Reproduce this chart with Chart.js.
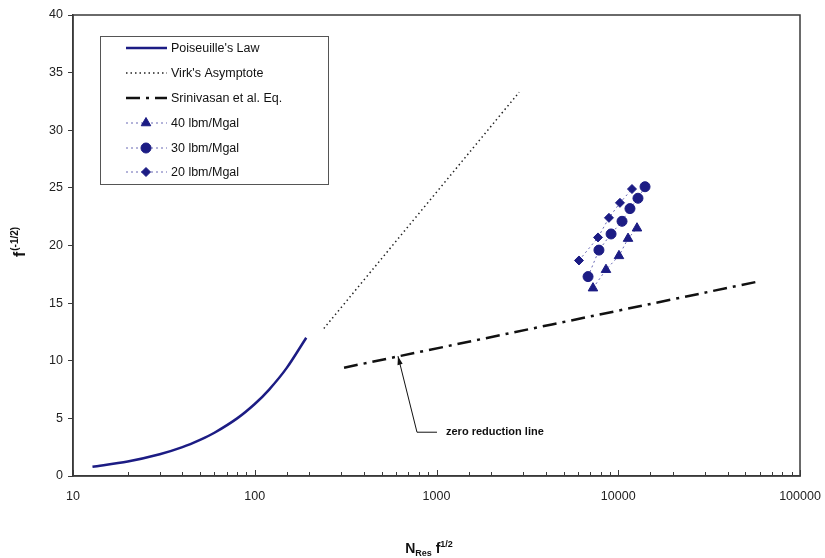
<!DOCTYPE html>
<html>
<head>
<meta charset="utf-8">
<script src="https://cdn.jsdelivr.net/npm/chart.js@4.4.1/dist/chart.umd.min.js"></script>
<style>
  body { margin: 0; background: #fff; }
  #wrap { width: 825px; height: 558px; }
</style>
</head>
<body>
<div id="wrap"><canvas id="chart" width="825" height="558"></canvas></div>
<script>
// laminar line (Poiseuille)
let poiseuilleX = [12.8, 20, 30, 40, 50, 60, 80, 100, 120, 150, 192];
let poiseuilleY = [0.8, 1.25, 1.88, 2.5, 3.13, 3.75, 5.0, 6.25, 7.5, 9.38, 12.0];
// maximum drag reduction asymptote
let virkX = [240, 2850];
let virkY = [12.8, 33.3];
// Srinivasan et al. correlation (zero reduction)
let srinivasanX = [310, 60000];
let srinivasanY = [9.4, 16.9];
// measured points per polymer loading
let lbm40X = [7260, 8560, 10090, 11320, 12680];
let lbm40Y = [16.3, 17.9, 19.1, 20.6, 21.5];
let lbm30X = [6820, 7830, 9130, 10490, 11600, 12840, 14040];
let lbm30Y = [17.3, 19.6, 21.0, 22.1, 23.2, 24.1, 25.1];
let lbm20X = [6080, 7740, 8890, 10220, 11900];
let lbm20Y = [18.7, 20.7, 22.4, 23.7, 24.9];

let xTicks = [10, 100, 1000, 10000, 100000];
let yTicks = [0, 5, 10, 15, 20, 25, 30, 35, 40];

// "zero reduction line" pointer, in data units
let noteTip = { x: 614, y: 10.4 };
let noteTail = { x: 781, y: 3.8 };
let noteText = 'zero reduction line';

const navy = '#1c1c84';
const fontFam = '"Liberation Sans", Arial, sans-serif';

function pts(xs, ys) {
    return xs.map((v, i) => ({ x: v, y: ys[i] }));
}

function isDecade(v) {
    return xTicks.some(t => Math.abs(t - v) < 1e-6 * t);
}

const decor = {
    id: 'decor',
    beforeDraw(chart) {
        const ctx = chart.ctx;
        ctx.save();
        ctx.fillStyle = '#fff';
        ctx.fillRect(0, 0, chart.width, chart.height);
        ctx.restore();
    },
    afterDraw(chart) {
        const { ctx, chartArea: a, scales: { x, y } } = chart;
        ctx.save();

        // frame
        ctx.strokeStyle = '#3a3a3a';
        ctx.lineWidth = 1.5;
        ctx.setLineDash([]);
        ctx.strokeRect(a.left, a.top, a.right - a.left, a.bottom - a.top);

        // x ticks point inward
        ctx.lineWidth = 1;
        ctx.beginPath();
        x.ticks.forEach(t => {
            const px = Math.round(x.getPixelForValue(t.value)) + 0.5;
            ctx.moveTo(px, a.bottom);
            ctx.lineTo(px, a.bottom - (isDecade(t.value) ? 6 : 4));
        });
        ctx.stroke();

        // pointer + label
        const tx = x.getPixelForValue(noteTip.x), ty = y.getPixelForValue(noteTip.y);
        const bx = x.getPixelForValue(noteTail.x), by = y.getPixelForValue(noteTail.y);
        ctx.strokeStyle = '#111';
        ctx.fillStyle = '#111';
        ctx.lineWidth = 1;
        ctx.beginPath();
        ctx.moveTo(bx + 20, by);
        ctx.lineTo(bx, by);
        ctx.lineTo(tx, ty);
        ctx.stroke();
        const ang = Math.atan2(ty - by, tx - bx);
        ctx.beginPath();
        ctx.moveTo(tx, ty);
        ctx.lineTo(tx - 9 * Math.cos(ang - 0.3), ty - 9 * Math.sin(ang - 0.3));
        ctx.lineTo(tx - 9 * Math.cos(ang + 0.3), ty - 9 * Math.sin(ang + 0.3));
        ctx.closePath();
        ctx.fill();
        ctx.font = 'bold 11px ' + fontFam;
        ctx.textBaseline = 'middle';
        ctx.textAlign = 'left';
        ctx.fillText(noteText, bx + 29, by);

        // legend box
        ctx.fillStyle = '#fff';
        ctx.fillRect(100, 36, 228, 148);
        ctx.strokeStyle = '#555';
        ctx.lineWidth = 1;
        ctx.strokeRect(100.5, 36.5, 228, 148);
        const rows = [48, 73, 98, 123, 148, 172];
        chart.data.datasets.forEach((ds, i) => {
            const ry = rows[i];
            ctx.save();
            ctx.strokeStyle = ds.borderColor;
            ctx.lineWidth = ds.borderWidth;
            ctx.setLineDash(ds.borderDash || []);
            ctx.beginPath();
            ctx.moveTo(126, ry);
            ctx.lineTo(167, ry);
            ctx.stroke();
            ctx.setLineDash([]);
            if (ds.pointRadius > 0) {
                ctx.fillStyle = ds.pointBackgroundColor;
                ctx.strokeStyle = ds.pointBorderColor;
                Chart.helpers.drawPoint(ctx, {
                    pointStyle: ds.pointStyle, radius: ds.pointRadius,
                    rotation: 0, borderWidth: 1
                }, 146, ry);
            }
            ctx.restore();
            ctx.fillStyle = '#111';
            ctx.font = '12.5px ' + fontFam;
            ctx.textBaseline = 'middle';
            ctx.fillText(ds.label, 171, ry + 1);
        });

        // axis titles with sub/superscripts
        ctx.fillStyle = '#111';
        ctx.textBaseline = 'alphabetic';
        const big = 'bold 14px ' + fontFam;
        const small = 'bold 9px ' + fontFam;

        ctx.save();
        ctx.translate(25, 242);
        ctx.rotate(-Math.PI / 2);
        ctx.font = 'bold 16px ' + fontFam;
        const fw = ctx.measureText('f').width;
        ctx.font = 'bold 10px ' + fontFam;
        const sw = ctx.measureText('(-1/2)').width;
        let cx = -(fw + sw + 1) / 2;
        ctx.font = 'bold 16px ' + fontFam;
        ctx.fillText('f', cx, 0);
        ctx.font = 'bold 10px ' + fontFam;
        ctx.fillText('(-1/2)', cx + fw + 1, -7);
        ctx.restore();

        const parts = [['N', big, 0], ['Res', small, 3], [' f', big, 0], ['1/2', small, -6]];
        let total = 0;
        parts.forEach(p => { ctx.font = p[1]; total += ctx.measureText(p[0]).width; });
        let xx = 429 - total / 2;
        parts.forEach(p => {
            ctx.font = p[1];
            ctx.fillText(p[0], xx, 553 + p[2]);
            xx += ctx.measureText(p[0]).width;
        });

        ctx.restore();
    }
};

const lineSet = (label, data, color, width, dash) => ({
    label, data, borderColor: color, borderWidth: width, borderDash: dash,
    pointRadius: 0, showLine: true, fill: false, tension: 0.3
});
const markSet = (label, data, style, r) => ({
    label, data, borderColor: 'rgba(40,40,150,0.7)', borderWidth: 1, borderDash: [2, 3],
    pointStyle: style, pointRadius: r, pointBackgroundColor: navy, pointBorderColor: navy,
    pointBorderWidth: 1, showLine: true, fill: false, tension: 0
});

new Chart(document.getElementById('chart'), {
    type: 'scatter',
    data: {
        datasets: [
            lineSet("Poiseuille's Law", pts(poiseuilleX, poiseuilleY), navy, 2.5, []),
            lineSet("Virk's Asymptote", pts(virkX, virkY), '#222', 1.5, [1.5, 3]),
            lineSet('Srinivasan et al. Eq.', pts(srinivasanX, srinivasanY), '#111', 2.5, [14, 6, 3, 6]),
            markSet('40 lbm/Mgal', pts(lbm40X, lbm40Y), 'triangle', 5.5),
            markSet('30 lbm/Mgal', pts(lbm30X, lbm30Y), 'circle', 5),
            markSet('20 lbm/Mgal', pts(lbm20X, lbm20Y), 'rectRot', 4.5)
        ]
    },
    options: {
        responsive: false,
        animation: false,
        layout: { padding: { left: 0, right: 25, top: 15, bottom: 0 } },
        plugins: { legend: { display: false }, tooltip: { enabled: false } },
        scales: {
            x: {
                type: 'logarithmic',
                min: 10, max: 100000,
                afterFit(scale) {
                    scale.height = 82;
                    scale.paddingLeft = 0;
                    scale.paddingRight = 0;
                },
                grid: { drawOnChartArea: false, drawTicks: false },
                border: { color: '#3a3a3a', width: 1.5 },
                ticks: {
                    autoSkip: false, maxRotation: 0, padding: 13,
                    color: '#222',
                    font: { family: fontFam, size: 12.5 },
                    callback: v => isDecade(v) ? String(Math.round(v)) : ''
                }
            },
            y: {
                min: 0, max: 40,
                afterFit(scale) { scale.width = 73; },
                afterBuildTicks(scale) { scale.ticks = yTicks.map(v => ({ value: v })); },
                grid: { drawOnChartArea: false, tickLength: 5, color: '#3a3a3a' },
                border: { color: '#3a3a3a', width: 1.5 },
                ticks: {
                    padding: 5, color: '#222',
                    font: { family: fontFam, size: 12.5 }
                }
            }
        }
    },
    plugins: [decor]
});
</script>
</body>
</html>
